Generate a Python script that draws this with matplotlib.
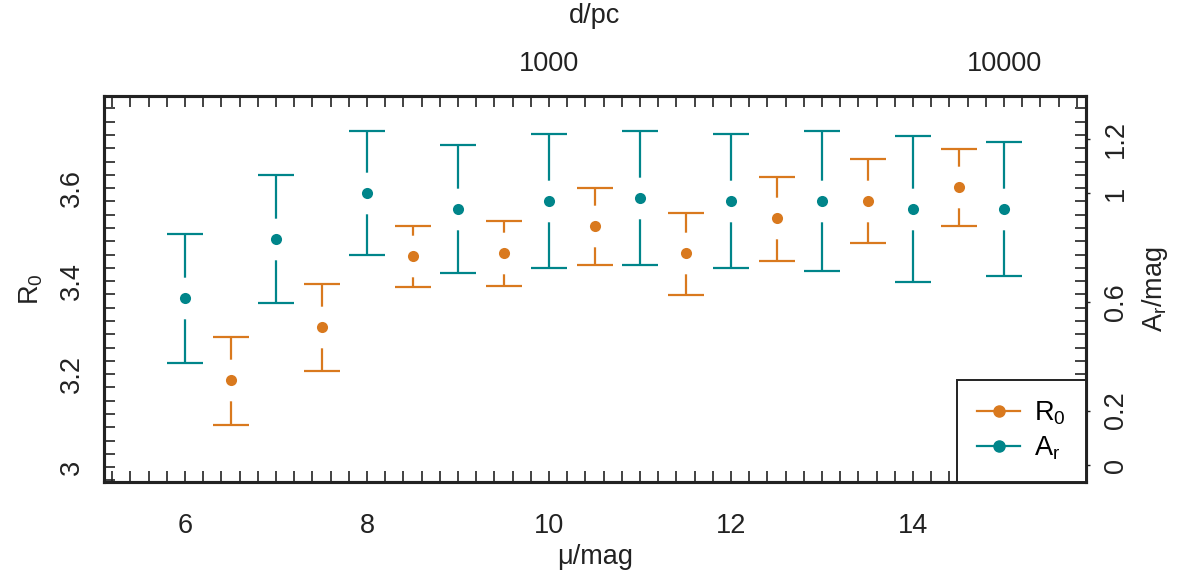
import numpy as np
import matplotlib
matplotlib.use("Agg")
import matplotlib.pyplot as plt
from matplotlib.ticker import MultipleLocator, FixedLocator, FormatStrFormatter
from matplotlib.lines import Line2D

plt.rcParams['font.family'] = 'Liberation Sans'
plt.rcParams['mathtext.fontset'] = 'custom'
plt.rcParams['mathtext.rm'] = 'Liberation Sans'
plt.rcParams['mathtext.it'] = 'Liberation Sans'

# R0 vs distance modulus (left axis)
mu_r0 = [6.5, 7.5, 8.5, 9.5, 10.5, 11.5, 12.5, 13.5, 14.5]
r0 = [3.187, 3.301, 3.454, 3.460, 3.518, 3.460, 3.535, 3.572, 3.602]
r0_lo = [3.090, 3.206, 3.387, 3.389, 3.434, 3.370, 3.443, 3.482, 3.518]
r0_hi = [3.280, 3.394, 3.518, 3.529, 3.600, 3.546, 3.624, 3.662, 3.684]

# A_r vs distance modulus (right axis)
mu_ar = [6, 7, 8, 9, 10, 11, 12, 13, 14, 15]
ar = [0.614, 0.831, 1.000, 0.941, 0.971, 0.982, 0.971, 0.971, 0.941, 0.941]
ar_lo = [0.375, 0.596, 0.772, 0.706, 0.724, 0.735, 0.724, 0.713, 0.673, 0.695]
ar_hi = [0.849, 1.066, 1.228, 1.176, 1.217, 1.228, 1.217, 1.228, 1.210, 1.188]

d_ticks = [1000, 10000]
ar_ticks = [0, 0.2, 0.6, 1, 1.2]

c_r0 = '#D9791E'
c_ar = '#00858A'
fs = 19.5

fig = plt.figure(figsize=(11.84, 5.78), dpi=100)
ax = fig.add_axes([104/1184, 1 - 482/578, (1086 - 104)/1184, (482 - 96)/578])
ax2 = ax.twinx()

ax.set_xlim(5.11, 15.90)
ax.set_ylim(2.968, 3.798)
ax2.set_ylim(-0.0625, 1.357)


def draw(a, x, y, lo, hi, col):
    y = np.array(y)
    err = [y - np.array(lo), np.array(hi) - y]
    a.errorbar(x, y, yerr=err, fmt='none', ecolor=col, elinewidth=1.6,
               capsize=13, capthick=1.6, zorder=2)
    # white disc leaves the gap around each point, as in R
    a.plot(x, y, 'o', ms=30, color='white', mec='none', zorder=3)
    a.plot(x, y, 'o', ms=8, color=col, mec='none', zorder=4)


draw(ax, mu_r0, r0, r0_lo, r0_hi, c_r0)
draw(ax2, mu_ar, ar, ar_lo, ar_hi, c_ar)

# ticks
ax.xaxis.set_major_locator(MultipleLocator(2))
ax.xaxis.set_minor_locator(MultipleLocator(0.2))
ax.yaxis.set_major_locator(MultipleLocator(0.2))
ax.yaxis.set_minor_locator(MultipleLocator(0.2 / 7))
ax.yaxis.set_major_formatter(FormatStrFormatter('%g'))
ax.tick_params(which='both', direction='in', length=8, width=1.2,
               top=True, right=True, labelsize=fs, colors='#222222')
ax.tick_params(axis='x', which='major', pad=22)
ax.tick_params(axis='y', which='major', pad=14, labelrotation=90)
for lab in ax.get_yticklabels():
    lab.set_va('center')

ax2.yaxis.set_major_locator(FixedLocator(ar_ticks))
ax2.yaxis.set_minor_locator(FixedLocator([]))
ax2.set_yticklabels(['0', '0.2', '0.6', '1', '1.2'])
ax2.tick_params(axis='y', direction='out', length=3, width=1, pad=9,
                labelsize=fs, labelrotation=90, colors='#222222')
for lab in ax2.get_yticklabels():
    lab.set_va('center')

for a in (ax, ax2):
    for s in a.spines.values():
        s.set_linewidth(2.2)
        s.set_color('#222222')

# top axis: distance
top = ax.secondary_xaxis('top', functions=(lambda m: 10 ** ((m + 5) / 5),
                                           lambda d: 5 * np.log10(d) - 5))
top.set_xticks(d_ticks)
top.set_xticklabels(['1000', '10000'])
top.xaxis.set_minor_locator(FixedLocator([]))
top.tick_params(length=0, pad=14, labelsize=fs, colors='#222222')
top.spines['top'].set_visible(False)
top.set_xlabel('d/pc', fontsize=fs, labelpad=20, color='#222222')

ax.set_xlabel('μ/mag', fontsize=fs, labelpad=4, color='#222222')
ax.set_ylabel('$\\mathrm{R_0}$', fontsize=fs, labelpad=10, color='#222222')
ax2.set_ylabel('$\\mathrm{A_r}$/mag', fontsize=fs, labelpad=8, rotation=90,
               color='#222222')

handles = [Line2D([], [], color=c_r0, lw=1.6, marker='o', ms=8),
           Line2D([], [], color=c_ar, lw=1.6, marker='o', ms=8)]
leg = ax2.legend(handles, ['$\\mathrm{R_0}$', '$\\mathrm{A_r}$'], loc='lower right',
                 fontsize=fs, frameon=True, fancybox=False, framealpha=1,
                 edgecolor='#222222', borderaxespad=0, handlelength=1.6,
                 handletextpad=0.5, labelspacing=0.25, borderpad=0.75)
leg.get_frame().set_linewidth(1.4)

fig.savefig('out.png', dpi=100)
